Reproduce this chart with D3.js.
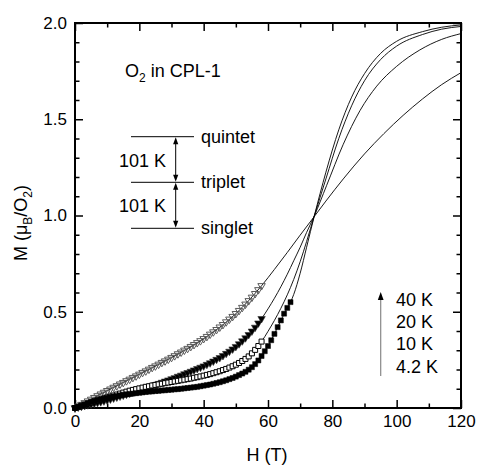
<!DOCTYPE html>
<html><head><meta charset="utf-8">
<script src="https://cdn.jsdelivr.net/npm/d3@7"></script>
<style>body{margin:0;background:#fff} svg text{font-family:Arial,"Liberation Sans",sans-serif;fill:#000}</style>
</head><body><svg id="c" width="477" height="466"></svg>
<script>
// ---------- data ----------
const xTicks = [0, 20, 40, 60, 80, 100, 120];
const xMinor = [10, 30, 50, 70, 90, 110];
const yTicks = [0.0, 0.5, 1.0, 1.5, 2.0];
const yMinor = [0.1,0.2,0.3,0.4,0.6,0.7,0.8,0.9,1.1,1.2,1.3,1.4,1.6,1.7,1.8,1.9];
const tempLabels = ["40 K", "20 K", "10 K", "4.2 K"];
const levelNames = ["quintet", "triplet", "singlet"];
const gapLabels = ["101 K", "101 K"];

// measured points (H in T, M in muB/O2)
const dataH40 = [0,1,2,3,4,5,6,7,8,9,10,11,12,13,14,15,16,17,18,19,20,21,22,23,24,25,26,27,28,29,30,31,32,33,34,35,36,37,38,39,40,41,42,43,44,45,46,47,48,49,50,51,52,53,54,55,56,57,58];
const dataM40 = [0.000,0.009,0.018,0.027,0.036,0.045,0.054,0.063,0.072,0.081,0.090,0.098,0.107,0.115,0.124,0.132,0.141,0.149,0.158,0.166,0.175,0.184,0.192,0.201,0.210,0.218,0.227,0.236,0.244,0.253,0.262,0.271,0.281,0.290,0.300,0.309,0.319,0.329,0.339,0.349,0.360,0.371,0.383,0.395,0.407,0.420,0.433,0.447,0.461,0.475,0.490,0.506,0.522,0.539,0.557,0.575,0.594,0.614,0.635];

const dataH20 = [0,1,2,3,4,5,6,7,8,9,10,11,12,13,14,15,16,17,18,19,20,21,22,23,24,25,26,27,28,29,30,31,32,33,34,35,36,37,38,39,40,41,42,43,44,45,46,47,48,49,50,51,52,53,54,55,56,57,58];
const dataM20 = [0.000,0.004,0.008,0.012,0.016,0.020,0.024,0.028,0.032,0.036,0.041,0.046,0.051,0.056,0.061,0.066,0.071,0.076,0.081,0.086,0.091,0.097,0.103,0.109,0.115,0.121,0.127,0.133,0.139,0.145,0.151,0.157,0.164,0.170,0.177,0.183,0.190,0.197,0.204,0.211,0.218,0.226,0.234,0.243,0.252,0.261,0.272,0.283,0.294,0.306,0.319,0.333,0.348,0.364,0.381,0.399,0.419,0.441,0.464];

const dataH10 = [0,1,2,3,4,5,6,7,8,9,10,11,12,13,14,15,16,17,18,19,20,21,22,23,24,25,26,27,28,29,30,31,32,33,34,35,36,37,38,39,40,41,42,43,44,45,46,47,48,49,50,51,52,53,54,55,56,57,58];
const dataM10 = [0.000,0.006,0.012,0.018,0.024,0.029,0.035,0.040,0.045,0.050,0.055,0.060,0.065,0.070,0.075,0.080,0.085,0.090,0.094,0.098,0.102,0.106,0.110,0.113,0.117,0.120,0.123,0.126,0.129,0.132,0.135,0.138,0.141,0.144,0.147,0.150,0.153,0.157,0.160,0.164,0.168,0.172,0.176,0.181,0.186,0.191,0.197,0.203,0.210,0.217,0.225,0.234,0.244,0.255,0.268,0.284,0.302,0.322,0.345];

const dataH4 = [0,1,2,3,4,5,6,7,8,9,10,11,12,13,14,15,16,17,18,19,20,21,22,23,24,25,26,27,28,29,30,31,32,33,34,35,36,37,38,39,40,41,42,43,44,45,46,47,48,49,50,51,52,53,54,55,56,57,58,59,60,61,62,63,64,65,66,67];
const dataM4 = [0.000,0.006,0.012,0.018,0.024,0.030,0.035,0.040,0.045,0.049,0.053,0.057,0.060,0.063,0.066,0.069,0.071,0.073,0.075,0.077,0.079,0.081,0.083,0.085,0.086,0.088,0.089,0.091,0.092,0.094,0.095,0.097,0.098,0.100,0.102,0.104,0.106,0.108,0.110,0.113,0.116,0.119,0.122,0.126,0.130,0.134,0.139,0.144,0.150,0.156,0.163,0.171,0.179,0.188,0.199,0.212,0.228,0.247,0.270,0.295,0.322,0.352,0.385,0.420,0.455,0.490,0.520,0.550];

// calculated curves
const lineH40 = [0,10,20,30,40,50,58,62,66,70,74.4,78,83.4,90,96,102,108,114,120];
const lineM40 = [0,0.09,0.175,0.262,0.36,0.49,0.635,0.72,0.808,0.898,0.995,1.075,1.19,1.32,1.425,1.52,1.605,1.68,1.742];
const lineH20 = [0,10,20,30,40,50,58,60,62,64,66,68,70,72,74.4,78.2,83.4,88.6,93.8,100,107.2,114,120];
const lineM20 = [0,0.041,0.091,0.151,0.218,0.319,0.464,0.515,0.57,0.63,0.695,0.765,0.835,0.912,0.998,1.155,1.37,1.545,1.672,1.775,1.86,1.915,1.945];
const lineH10 = [0,10,20,30,40,50,58,60,62,64,66,68,70,72,74.4,78,82,86,90,95,100,108,114,120];
const lineM10 = [0,0.055,0.102,0.135,0.168,0.225,0.345,0.398,0.455,0.518,0.588,0.668,0.76,0.865,0.998,1.19,1.40,1.57,1.70,1.81,1.88,1.94,1.968,1.982];
const lineH4 = [0,10,20,30,40,50,55,60,62,64,66,67,68,70,72,74.4,78,82,86,90,95,100,108,114,120];
const lineM4 = [0,0.053,0.079,0.095,0.116,0.163,0.212,0.322,0.385,0.455,0.52,0.55,0.59,0.70,0.835,0.998,1.225,1.445,1.615,1.737,1.842,1.905,1.955,1.978,1.99];

// ---------- drawing ----------
const svg = d3.select("#c");
const m = {l: 75, r: 461, t: 23, b: 408};
const x = d3.scaleLinear().domain([0, 120]).range([m.l, m.r]);
const y = d3.scaleLinear().domain([0, 2]).range([m.b, m.t]);

const fs = 17;
function styleAxis(g){
  g.select(".domain").remove();
  g.selectAll(".tick line").attr("stroke","#000").attr("stroke-width",1.5);
  g.selectAll(".tick text").attr("font-size",fs).attr("font-family","Arial, 'Liberation Sans', sans-serif").attr("fill","#000");
}
// bottom
svg.append("g").attr("transform",`translate(0,${m.b})`)
  .call(d3.axisBottom(x).tickValues(xTicks).tickFormat(d3.format("d")).tickSizeInner(-8).tickSizeOuter(0).tickPadding(7))
  .call(styleAxis);
svg.append("g").attr("transform",`translate(0,${m.b})`)
  .call(d3.axisBottom(x).tickValues(xMinor).tickFormat("").tickSizeInner(-4.5).tickSizeOuter(0))
  .call(styleAxis);
// top
svg.append("g").attr("transform",`translate(0,${m.t})`)
  .call(d3.axisTop(x).tickValues(xTicks).tickFormat("").tickSizeInner(-8).tickSizeOuter(0))
  .call(styleAxis);
svg.append("g").attr("transform",`translate(0,${m.t})`)
  .call(d3.axisTop(x).tickValues(xMinor).tickFormat("").tickSizeInner(-4.5).tickSizeOuter(0))
  .call(styleAxis);
// left
svg.append("g").attr("transform",`translate(${m.l},0)`)
  .call(d3.axisLeft(y).tickValues(yTicks).tickFormat(d3.format(".1f")).tickSizeInner(-8).tickSizeOuter(0).tickPadding(8))
  .call(styleAxis);
svg.append("g").attr("transform",`translate(${m.l},0)`)
  .call(d3.axisLeft(y).tickValues(yMinor).tickFormat("").tickSizeInner(-4.5).tickSizeOuter(0))
  .call(styleAxis);
// right
svg.append("g").attr("transform",`translate(${m.r},0)`)
  .call(d3.axisRight(y).tickValues(yTicks).tickFormat("").tickSizeInner(-8).tickSizeOuter(0))
  .call(styleAxis);
svg.append("g").attr("transform",`translate(${m.r},0)`)
  .call(d3.axisRight(y).tickValues(yMinor).tickFormat("").tickSizeInner(-4.5).tickSizeOuter(0))
  .call(styleAxis);

// frame
svg.append("rect").attr("x",m.l).attr("y",m.t).attr("width",m.r-m.l).attr("height",m.b-m.t)
  .attr("fill","none").attr("stroke","#000").attr("stroke-width",2);

// lines
const lineGen = d3.line().x(d=>x(d[0])).y(d=>y(d[1])).curve(d3.curveMonotoneX);
const lines = [[lineH40,lineM40],[lineH20,lineM20],[lineH10,lineM10],[lineH4,lineM4]];
const plot = svg.append("g");
lines.forEach(([hs,ms])=>{
  plot.append("path").datum(hs.map((h,i)=>[h,ms[i]]))
    .attr("d",lineGen).attr("fill","none").attr("stroke","#000").attr("stroke-width",0.9);
});

// markers
const tri = d3.symbol().type(d3.symbolTriangle).size(24);
const sq = d3.symbol().type(d3.symbolSquare).size(25);
function markers(hs, ms, gen, rot, fill, stroke, sw){
  plot.append("g").selectAll("path").data(hs.map((h,i)=>[h,ms[i]])).join("path")
    .attr("d",gen())
    .attr("transform",d=>`translate(${x(d[0])},${y(d[1])}) rotate(${rot})`)
    .attr("fill",fill).attr("stroke",stroke).attr("stroke-width",sw);
}
markers(dataH40,dataM40,tri,180,"none","#5a5a5a",1);
markers(dataH20,dataM20,tri,180,"#000","#333",0.6);
markers(dataH10,dataM10,sq,0,"#fff","#000",1);
markers(dataH4,dataM4,sq,0,"#000","#000",0.5);

// title annotation
const t1 = svg.append("text").attr("x",125).attr("y",77).attr("font-size",18);
t1.append("tspan").text("O");
t1.append("tspan").attr("font-size",12).attr("dy",5).text("2");
t1.append("tspan").attr("dy",-5).text(" in CPL-1");

// energy levels
const levelYs = [136.7, 182.3, 228.3];
levelNames.forEach((n,i)=>{
  svg.append("line").attr("x1",131).attr("x2",194).attr("y1",levelYs[i]).attr("y2",levelYs[i])
    .attr("stroke","#000").attr("stroke-width",1);
  svg.append("text").attr("x",201).attr("y",levelYs[i]+6).attr("font-size",18).text(n);
});
const ax = 175.7;
function head(xc, yc, dir){
  svg.append("path").attr("d",`M${xc},${yc} L${xc-2.6},${yc-dir*7} L${xc+2.6},${yc-dir*7} Z`).attr("fill","#000");
}
for(let i=0;i<2;i++){
  const ya = levelYs[i], yb = levelYs[i+1];
  svg.append("line").attr("x1",ax).attr("x2",ax).attr("y1",ya+3).attr("y2",yb-3).attr("stroke","#000").attr("stroke-width",1);
  head(ax, ya+0.5, -1);
  head(ax, yb-0.5, 1);
  svg.append("text").attr("x",119).attr("y",(ya+yb)/2+7).attr("font-size",18).text(gapLabels[i]);
}

// temperature legend
svg.append("line").attr("x1",380.7).attr("x2",380.7).attr("y1",376).attr("y2",298)
  .attr("stroke","#888").attr("stroke-width",1.2);
svg.append("path").attr("d","M380.7,292 L377.8,300 L383.6,300 Z").attr("fill","#000");
tempLabels.forEach((t,i)=>{
  svg.append("text").attr("x",396).attr("y",305.5+i*22.4).attr("font-size",18).text(t);
});

// axis titles
svg.append("text").attr("x",267).attr("y",461).attr("text-anchor","middle").attr("font-size",18).text("H (T)");
const yl = svg.append("text").attr("transform","translate(27,223) rotate(-90)").attr("text-anchor","middle").attr("font-size",18);
yl.append("tspan").text("M (μ");
yl.append("tspan").attr("font-size",12).attr("dy",5).text("B");
yl.append("tspan").attr("dy",-5).text("/O");
yl.append("tspan").attr("font-size",12).attr("dy",5).text("2");
yl.append("tspan").attr("dy",-5).text(")");
</script></body></html>
